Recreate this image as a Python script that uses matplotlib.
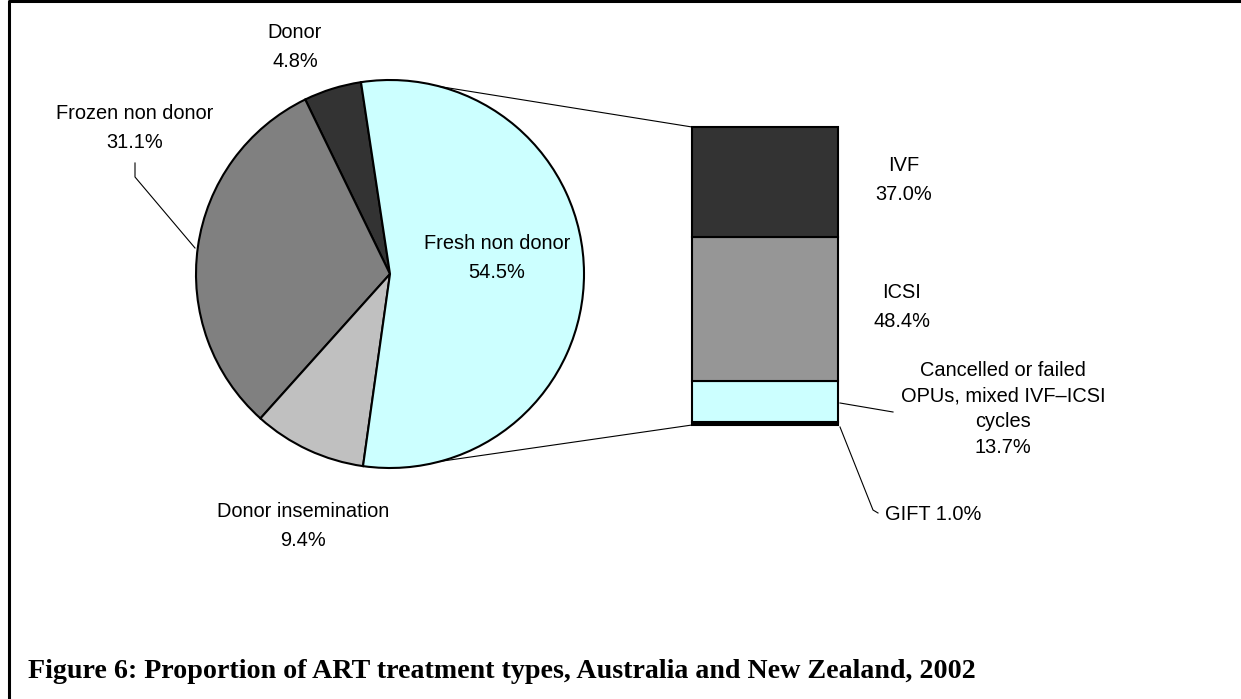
import numpy as np
import matplotlib.pyplot as plt

# pie data (order: counter-clockwise from the Donor slice)
pie_labels = ["Donor", "Frozen non donor", "Donor insemination", "Fresh non donor"]
pie_values = [4.8, 31.1, 9.4, 54.5]
pie_colors = ["#333333", "#808080", "#c0c0c0", "#ccffff"]

# bar data: breakdown of "Fresh non donor", stacked bottom -> top
bar_labels = ["GIFT", "Cancelled or failed\nOPUs, mixed IVF\u2013ICSI\ncycles", "ICSI", "IVF"]
bar_values = [1.0, 13.7, 48.4, 37.0]
bar_colors = ["#000000", "#ccffff", "#969696", "#333333"]

caption = "Figure 6: Proportion of ART treatment types, Australia and New Zealand, 2002"

W, H = 1241, 699
plt.rcParams['font.family'] = ['Liberation Sans', 'DejaVu Sans']


def Y(y):
    # picture rows run downward, the axes run upward
    return H - y


fig = plt.figure(figsize=(W / 100, H / 100), dpi=100)
ax = fig.add_axes([0, 0, 1, 1])

# --- pie ---
pie_center = (390, Y(274))
pie_radius = 194
wedges, _ = ax.pie(pie_values, colors=pie_colors, startangle=98.6, counterclock=True,
                   center=pie_center, radius=pie_radius,
                   wedgeprops=dict(edgecolor="black", linewidth=1.5))

# --- stacked bar ---
bar_x, bar_w = 765, 146
bar_top, bar_bottom = 127, 425
scale = (bar_bottom - bar_top) / sum(bar_values)
heights = np.array(bar_values) * scale
bottoms = Y(bar_bottom) + np.concatenate([[0], np.cumsum(heights)[:-1]])
ax.bar([bar_x] * len(bar_values), heights, width=bar_w, bottom=bottoms,
       color=bar_colors, edgecolor="black", linewidth=1.5)

# connectors from pie to bar
for sgn in (1, -1):
    ang = np.deg2rad(75.0 * sgn)
    px = pie_center[0] + pie_radius * np.cos(ang)
    py = pie_center[1] + pie_radius * np.sin(ang)
    by = bottoms[-1] + heights[-1] if sgn > 0 else bottoms[0]
    ax.plot([px, bar_x - bar_w / 2], [py, by], color="black", lw=0.8)

ax.set_xlim(0, W)
ax.set_ylim(0, H)
ax.set_aspect("auto")
ax.axis("off")

fs = 14.4
ls = 1.7
# pie labels
ax.text(295, Y(47), f"{pie_labels[0]}\n{pie_values[0]:.1f}%", ha="center", va="center", fontsize=fs, linespacing=ls)
ax.text(135, Y(128), f"{pie_labels[1]}\n{pie_values[1]:.1f}%", ha="center", va="center", fontsize=fs, linespacing=ls)
ax.text(303, Y(526), f"{pie_labels[2]}\n{pie_values[2]:.1f}%", ha="center", va="center", fontsize=fs, linespacing=ls)
ax.text(497, Y(258), f"{pie_labels[3]}\n{pie_values[3]:.1f}%", ha="center", va="center", fontsize=fs, linespacing=ls)
ax.plot([135, 135, 195], [Y(163), Y(177), Y(248)], color="black", lw=0.8)

# bar labels
ax.text(904, Y(180), f"{bar_labels[3]}\n{bar_values[3]:.1f}%", ha="center", va="center", fontsize=fs, linespacing=ls)
ax.text(902, Y(307), f"{bar_labels[2]}\n{bar_values[2]:.1f}%", ha="center", va="center", fontsize=fs, linespacing=ls)
ax.text(1003, Y(409), f"{bar_labels[1]}\n{bar_values[1]:.1f}%", ha="center", va="center", fontsize=fs, linespacing=1.45)
ax.text(885, Y(515), f"{bar_labels[0]} {bar_values[0]:.1f}%", ha="left", va="center", fontsize=fs)
ax.plot([bar_x + bar_w / 2 + 2, 893], [Y(403), Y(412)], color="black", lw=0.8)
ax.plot([bar_x + bar_w / 2 + 2, 873, 878], [Y(427), Y(510), Y(513)], color="black", lw=0.8)

# frame: only top and left sides fall inside the picture
ax.plot([9, 9, W + 5], [-5, Y(1), Y(1)], color="black", lw=2.2, clip_on=False)

ax.text(28, Y(671), caption, ha="left", va="center", fontsize=20.2,
        fontweight="bold", family=["Liberation Serif", "DejaVu Serif"])

fig.savefig("out.png", dpi=100)
